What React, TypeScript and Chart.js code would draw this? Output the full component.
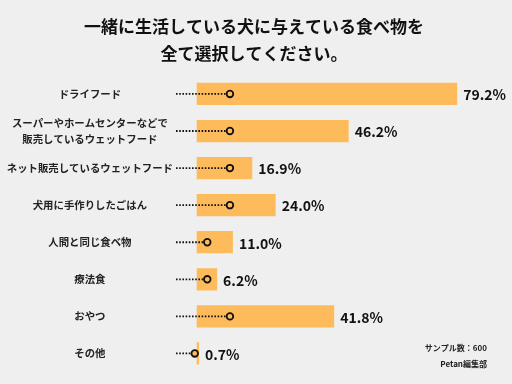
import React, { useEffect, useRef } from "react";
import { Chart, registerables } from "chart.js";

Chart.register(...registerables);

const titleLines = ["一緒に生活している犬に与えている食べ物を", "全て選択してください。"];
const categories = [
  "ドライフード",
  "スーパーやホームセンターなどで\n販売しているウェットフード",
  "ネット販売しているウェットフード",
  "犬用に手作りしたごはん",
  "人間と同じ食べ物",
  "療法食",
  "おやつ",
  "その他",
];
const values = [79.2, 46.2, 16.9, 24.0, 11.0, 6.2, 41.8, 0.7];
const dotStart = -6.3;
const dotEnds = [10.1, 10.1, 10.1, 10.1, 3.2, 3.2, 10.1, -0.6];
const footnotes = ["サンプル数：600", "Petan編集部"];

const BAR = "#FDBB5B";
const BG = "#EFEFEF";
const JP = "'Noto Sans CJK JP', 'Noto Sans', sans-serif";

export default function App() {
  const ref = useRef<HTMLCanvasElement | null>(null);
  useEffect(() => {
    if (!ref.current) return;
    const valueLabels = {
      id: "valueLabels",
      afterDatasetsDraw(chart: any) {
        const ctx = chart.ctx;
        const idx = chart.data.datasets.findIndex((d: any) => d.type === "bar");
        const meta = chart.getDatasetMeta(idx);
        ctx.save();
        ctx.font = `bold 14px ${JP}`;
        ctx.fillStyle = "#111";
        ctx.textAlign = "left";
        ctx.textBaseline = "middle";
        meta.data.forEach((el: any, i: number) => {
          ctx.fillText(values[i].toFixed(1) + "%", el.x + 6, el.y + 1);
        });
        ctx.restore();
      },
      afterDraw(chart: any) {
        const ctx = chart.ctx;
        ctx.save();
        ctx.font = `bold 8px ${JP}`;
        ctx.fillStyle = "#222";
        ctx.textAlign = "right";
        ctx.textBaseline = "middle";
        ctx.fillText(footnotes[0], 487, 348);
        ctx.fillText(footnotes[1], 487, 364);
        ctx.restore();
      },
    };
    const dotSets = dotEnds.map((end, i) => ({
      type: "scatter" as const,
      data: [
        { x: dotStart, y: categories[i] },
        { x: end, y: categories[i] },
      ],
      showLine: true,
      borderColor: "#111",
      borderWidth: 1.8,
      borderDash: [1.6, 1.6],
      pointRadius: [0, 3.3],
      pointBorderWidth: 1.8,
      pointBackgroundColor: BAR,
      pointBorderColor: "#111",
      order: 0,
    }));
    const chart = new Chart(ref.current, {
      type: "bar",
      data: {
        labels: categories,
        datasets: [
          {
            type: "bar",
            data: values,
            backgroundColor: BAR,
            barPercentage: 0.6,
            categoryPercentage: 1,
            order: 1,
          } as any,
          ...(dotSets as any[]),
        ],
      },
      options: {
        responsive: false,
        animation: false,
        indexAxis: "y",
        layout: { padding: { left: 0, right: 4, top: 0, bottom: 12 } },
        plugins: {
          legend: { display: false },
          tooltip: { enabled: false },
          title: {
            display: true,
            text: titleLines,
            color: "#111",
            font: { family: JP, size: 17, weight: "bold", lineHeight: 1.6 },
            padding: { top: 13, bottom: 8 },
          },
        },
        scales: {
          x: { type: "linear", display: false, min: -6.3, max: 94.1 },
          y: {
            type: "category",
            grid: { display: false },
            border: { display: false },
            afterFit: (s: any) => {
              s.width = 176;
            },
            ticks: {
              crossAlign: "center",
              padding: -5,
              color: "#222",
              font: { family: JP, size: 10.4, weight: "bold", lineHeight: 1.45 },
              callback: function (this: any, value: any) {
                return String(this.getLabelForValue(value)).split("\n");
              },
            },
          },
        },
      } as any,
      plugins: [valueLabels],
    });
    return () => chart.destroy();
  }, []);
  return (
    <div style={{ position: "fixed", left: 0, top: 0, width: 512, height: 384, background: BG }}>
      <canvas ref={ref} width={512} height={384} />
    </div>
  );
}
